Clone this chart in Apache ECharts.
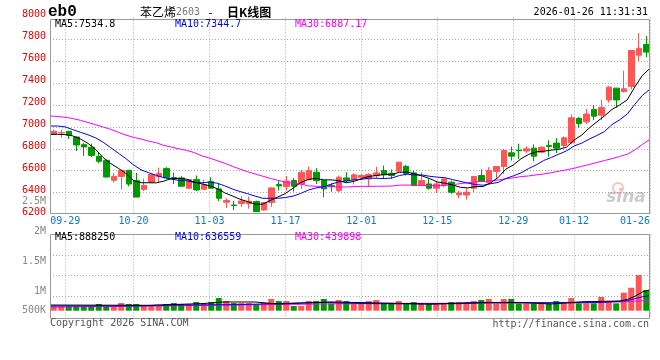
<!DOCTYPE html>
<html><head><meta charset="utf-8">
<script src="https://cdn.jsdelivr.net/npm/echarts@6/dist/echarts.min.js"></script>
<style>html,body{margin:0;padding:0;background:#fff}#c{width:660px;height:360px}</style>
</head><body><div id="c"></div>
<script>
// ---------- DATA ----------
const dates = ['09-25','09-26','09-29','09-30','10-09','10-10','10-13','10-14','10-15','10-16',
 '10-17','10-20','10-21','10-22','10-23','10-24','10-27','10-28','10-29','10-30',
 '10-31','11-03','11-04','11-05','11-06','11-07','11-10','11-11','11-12','11-13',
 '11-14','11-17','11-18','11-19','11-20','11-21','11-24','11-25','11-26','11-27',
 '11-28','12-01','12-02','12-03','12-04','12-05','12-08','12-09','12-10','12-11',
 '12-12','12-15','12-16','12-17','12-18','12-19','12-22','12-23','12-24','12-25',
 '12-26','12-29','12-30','12-31','01-05','01-06','01-07','01-08','01-09','01-12',
 '01-13','01-14','01-15','01-16','01-19','01-20','01-21','01-22','01-23','01-26'];
const opens = [6936,6946,6960,6908,6838,6814,6731,6695,6512,6548,
 6603,6509,6429,6494,6545,6621,6537,6534,6440,6519,
 6431,6501,6434,6312,6287,6299,6299,6318,6241,6309,
 6473,6455,6510,6479,6519,6586,6510,6464,6418,6534,
 6519,6537,6525,6556,6601,6577,6595,6640,6580,6464,
 6479,6440,6464,6495,6379,6379,6440,6556,6489,6592,
 6638,6763,6788,6780,6806,6769,6831,6852,6831,6855,
 7077,7046,7160,7107,7246,7354,7323,7369,7655,7754];
const closes = [6960,6948,6924,6835,6817,6740,6686,6542,6548,6603,
 6478,6359,6466,6567,6576,6536,6525,6458,6519,6424,
 6473,6440,6348,6327,6281,6324,6321,6226,6309,6443,
 6461,6505,6458,6586,6601,6510,6434,6455,6540,6510,
 6562,6556,6565,6580,6562,6556,6678,6575,6464,6510,
 6440,6479,6525,6403,6397,6403,6547,6501,6601,6638,
 6785,6733,6782,6800,6732,6815,6822,6806,6901,7083,
 7031,7117,7098,7178,7363,7246,7348,7698,7717,7683];
const lows = [6927,6902,6890,6780,6734,6725,6667,6540,6494,6429,
 6457,6359,6414,6490,6488,6534,6479,6458,6434,6412,
 6425,6434,6321,6260,6241,6269,6253,6226,6235,6269,
 6418,6418,6409,6434,6510,6479,6357,6409,6403,6489,
 6473,6516,6455,6525,6525,6525,6586,6556,6464,6464,
 6428,6397,6449,6388,6348,6336,6403,6495,6480,6525,
 6571,6693,6708,6763,6686,6760,6729,6760,6815,6840,
 6991,7025,7061,7061,7221,7175,7314,7345,7600,7637];
const highs = [6976,6973,6963,6910,6853,6847,6771,6700,6579,6609,
 6609,6579,6527,6570,6628,6631,6583,6550,6520,6556,
 6519,6540,6479,6348,6324,6367,6364,6327,6309,6449,
 6516,6550,6531,6608,6638,6623,6512,6486,6556,6586,
 6577,6571,6577,6635,6647,6611,6680,6653,6601,6586,
 6525,6501,6527,6510,6418,6440,6549,6611,6632,6640,
 6800,6821,6846,6824,6840,6822,6877,6898,6914,7114,
 7092,7163,7200,7246,7375,7356,7514,7700,7855,7831];
const volumes = [198000,198000,198000,198000,198000,198000,283000,198000,198000,325000,
 283000,283000,198000,198000,198000,283000,325000,283000,283000,367000,
 325000,367000,537000,410000,325000,325000,325000,283000,325000,495000,
 410000,410000,198000,198000,410000,410000,495000,311000,452000,410000,
 311000,311000,410000,452000,311000,311000,410000,311000,367000,311000,
 311000,311000,311000,367000,367000,367000,410000,452000,495000,311000,
 495000,495000,311000,311000,311000,311000,311000,410000,367000,537000,
 311000,311000,311000,580000,410000,311000,763000,975000,1512000,876000];
const ma5 = [6932,6932,6930,6918,6890,6850,6795,6720,6665,6622,
 6575,6510,6490,6490,6489,6505,6530,6530,6522,6495,
 6480,6462,6436,6398,6370,6340,6318,6295,6294,6328,
 6360,6392,6440,6492,6520,6530,6517,6516,6510,6490,
 6502,6527,6548,6556,6566,6566,6585,6588,6570,6552,
 6528,6497,6486,6470,6449,6443,6455,6455,6488,6538,
 6614,6652,6708,6748,6772,6778,6788,6795,6815,6880,
 6925,6990,7046,7100,7160,7200,7247,7365,7470,7534.8];
const ma10 = [7008,7008,7000,6975,6951,6928,6900,6860,6810,6760,
 6710,6653,6607,6581,6557,6536,6522,6512,6508,6493,
 6490,6496,6486,6462,6433,6410,6390,6368,6348,6348,
 6348,6355,6368,6392,6423,6442,6454,6476,6498,6506,
 6516,6521,6532,6531,6528,6533,6556,6568,6561,6561,
 6549,6541,6536,6519,6503,6487,6474,6467,6481,6493,
 6528,6553,6579,6619,6652,6693,6721,6751,6781,6826,
 6851,6889,6921,6958,7021,7065,7117,7206,7288,7344.7];
const ma30 = [7100,7095,7088,7076,7060,7040,7020,6998,6978,6950,
 6925,6905,6888,6870,6855,6830,6815,6800,6785,6765,
 6735,6715,6692,6668,6640,6615,6590,6570,6550,6530,
 6512,6495,6485,6478,6462,6458,6455,6453,6452,6451,
 6455,6457,6457,6458,6458,6460,6468,6469,6468,6466,
 6464,6463,6466,6472,6482,6490,6498,6502,6506,6515,
 6526,6535,6546,6552,6562,6570,6582,6595,6608,6622,
 6640,6657,6675,6693,6710,6730,6750,6790,6840,6887.17];
// volume moving averages, sampled points [day index, value]
const volMa5 = [[0,240000],[13,229000],[20,300000],[23,369000],[27,369000],[30,284000],[37,369000],
 [40,350000],[50,284000],[57,350000],[62,350000],[66,284000],[70,380000],[75,410000],[76,475000],[77,608000],[78,794000],[79,888250]];
const volMa10 = [[0,200000],[12,205000],[14,229000],[25,260000],[33,330000],[37,356000],[38,330000],
 [42,300000],[50,284000],[54,300000],[58,340000],[72,340000],[76,424000],[78,590000],[79,636559]];
const volMa30 = [[0,150000],[20,220000],[37,290000],[45,310000],[60,320000],[70,340000],[75,370000],[79,439898]];
const labelDays = ['09-29','10-20','11-03','11-17','12-01','12-15','12-29','01-12','01-26'];
const priceMin = 6200, priceMax = 8000, priceStep = 200;
const volTickLabels = ['2.5M','2M','1.5M','1M','500K'];
const maTexts = ['MA5:7534.8','MA10:7344.7','MA30:6887.17'];
const volMaTexts = ['MA5:888250','MA10:636559','MA30:439898'];
const titleParts = ['苯乙烯','2603','-','日K线图'];
const symbolText = 'eb0';
const stampText = '2026-01-26 11:31:31';
const footerLeft = 'Copyright 2026 SINA.COM';
const footerRight = 'http://finance.sina.com.cn';

// ---------- STYLE ----------
const UP = '#ff5555', DOWN = '#009900';
const MONO = '"DejaVu Sans Mono", monospace';
const GRIDC = '#aaaaaa';
const maColors = ['#000000','#0000ff','#ff00ff'];
const showDay = (i) => labelDays.indexOf(dates[i]) >= 0;

const VPX = 42400; // volume per pixel
const volMin = -5.8 * VPX, volInt = 20.5 * VPX;

const chart = echarts.init(document.getElementById('c'), null, {renderer: 'canvas'});
const txt = (t, x, y, color, font, align) => ({type:'text', x, y, silent:true, z:20,
  style:{text:t, fill:color, font, textAlign:align||'left', textVerticalAlign:'middle'}});

const graphics = [
  {type:'rect', silent:true, z:15, shape:{x:50.5,y:19.5,width:599,height:194}, style:{fill:'none', stroke:'#999', lineWidth:1}},
  {type:'rect', silent:true, z:15, shape:{x:50.5,y:234.5,width:599,height:84}, style:{fill:'none', stroke:'#999', lineWidth:1}},
  txt(symbolText, 48, 12, '#000', 'bold 16px "Liberation Mono", monospace'),
  txt(titleParts[0], 140, 12, '#000', '12px "Noto Sans CJK SC"'),
  txt(titleParts[1], 176, 12.5, '#777', '10px ' + MONO),
  txt(titleParts[2], 210.5, 12, '#000', '12px "Noto Sans CJK SC"', 'center'),
  txt(titleParts[3], 227, 12, '#000', 'bold 12px "Noto Sans CJK SC"'),
  txt(stampText, 648, 12, '#000', '10px ' + MONO, 'right'),
  txt(maTexts[0], 55, 24.5, maColors[0], '10px ' + MONO),
  txt(maTexts[1], 175, 24.5, maColors[1], '10px ' + MONO),
  txt(maTexts[2], 295, 24.5, maColors[2], '10px ' + MONO),
  txt(volMaTexts[0], 55, 237.8, maColors[0], '10px ' + MONO),
  txt(volMaTexts[1], 175, 237.8, maColors[1], '10px ' + MONO),
  txt(volMaTexts[2], 295, 237.8, maColors[2], '10px ' + MONO),
  txt(volTickLabels[0], 46, 201, '#888', '10px ' + MONO, 'right'),
  txt(volTickLabels[1], 46, 231, '#888', '10px ' + MONO, 'right'),
  txt(volTickLabels[2], 46, 261, '#888', '10px ' + MONO, 'right'),
  txt(volTickLabels[3], 46, 291, '#888', '10px ' + MONO, 'right'),
  txt(volTickLabels[4], 46, 310.5, '#888', '10px ' + MONO, 'right'),
  txt(footerLeft, 50, 323.5, '#555', '10px ' + MONO),
  txt(footerRight, 649, 324, '#555', '10px ' + MONO, 'right'),
  {type:'text', x:626, y:198, silent:true, z:1, style:{text:'sina', fill:'rgba(140,140,140,0.45)', font:'italic bold 17px "DejaVu Sans"', textAlign:'center', textVerticalAlign:'middle'}},
  {type:'circle', silent:true, z:1, shape:{cx:618, cy:188, r:5}, style:{fill:'none', stroke:'rgba(240,120,120,0.45)', lineWidth:2}}
];

const option = {
  animation: false,
  backgroundColor: '#fff',
  grid: [
    {left:50, top:17.4, width:600, height:197.1},
    {left:50, top:234.5, width:600, height:82}
  ],
  xAxis: [
    {type:'category', gridIndex:0, data:dates, boundaryGap:true, show:false},
    {type:'category', gridIndex:0, data:dates, boundaryGap:false, position:'bottom',
      axisLine:{show:false}, axisTick:{show:false},
      axisLabel:{interval:(i)=>showDay(i), color:'#0a78d2', fontFamily:'DejaVu Sans Mono', fontSize:10, margin:2, alignMaxLabel:'right'},
      splitLine:{show:true, interval:(i)=>showDay(i), lineStyle:{color:GRIDC, type:[1,2], width:1}}},
    {type:'category', gridIndex:1, data:dates, boundaryGap:true, show:false},
    {type:'category', gridIndex:1, data:dates, boundaryGap:false,
      axisLine:{show:false}, axisTick:{show:false}, axisLabel:{show:false},
      splitLine:{show:true, interval:(i)=>showDay(i), lineStyle:{color:GRIDC, type:[1,2], width:1}}}
  ],
  yAxis: [
    {type:'value', gridIndex:0, min:priceMin, max:priceMax, interval:priceStep, scale:true,
      axisLine:{show:false}, axisTick:{show:false},
      axisLabel:{color:'#ee0000', fontFamily:'DejaVu Sans Mono', fontSize:10, margin:4,
        formatter:(v)=>'{a|'+v+'}', rich:{a:{padding:[0,0,5,0], color:'#ee0000', fontFamily:'DejaVu Sans Mono', fontSize:10}}},
      splitLine:{show:true, showMinLine:false, showMaxLine:false, lineStyle:{color:GRIDC, type:[1,2], width:1}}},
    {type:'value', gridIndex:1, min:volMin, max:volMin + 4*volInt, interval:volInt,
      axisLine:{show:false}, axisTick:{show:false}, axisLabel:{show:false},
      splitLine:{show:true, showMinLine:false, showMaxLine:false, lineStyle:{color:GRIDC, type:[1,2], width:1}}}
  ],
  series: [
    {type:'candlestick', xAxisIndex:0, yAxisIndex:0, barWidth:6,
      data: dates.map((d,i)=>[opens[i], closes[i], lows[i], highs[i]]),
      itemStyle:{color:UP, color0:DOWN, borderColor:UP, borderColor0:DOWN, borderWidth:1}},
    {type:'line', xAxisIndex:1, yAxisIndex:0, data:ma30, symbol:'none', lineStyle:{color:maColors[2], width:1}},
    {type:'line', xAxisIndex:1, yAxisIndex:0, data:ma10, symbol:'none', lineStyle:{color:maColors[1], width:1}},
    {type:'line', xAxisIndex:1, yAxisIndex:0, data:ma5, symbol:'none', lineStyle:{color:maColors[0], width:1}},
    {type:'bar', xAxisIndex:2, yAxisIndex:1, barWidth:6, data:volumes,
      itemStyle:{color:(p)=> closes[p.dataIndex] >= opens[p.dataIndex] ? UP : DOWN}},
    {type:'line', xAxisIndex:3, yAxisIndex:1, data:volMa30, symbol:'none', lineStyle:{color:maColors[2], width:1}},
    {type:'line', xAxisIndex:3, yAxisIndex:1, data:volMa10, symbol:'none', lineStyle:{color:maColors[1], width:1}},
    {type:'line', xAxisIndex:3, yAxisIndex:1, data:volMa5, symbol:'none', lineStyle:{color:maColors[0], width:1}}
  ],
  graphic: graphics
};
chart.setOption(option);
</script></body></html>
